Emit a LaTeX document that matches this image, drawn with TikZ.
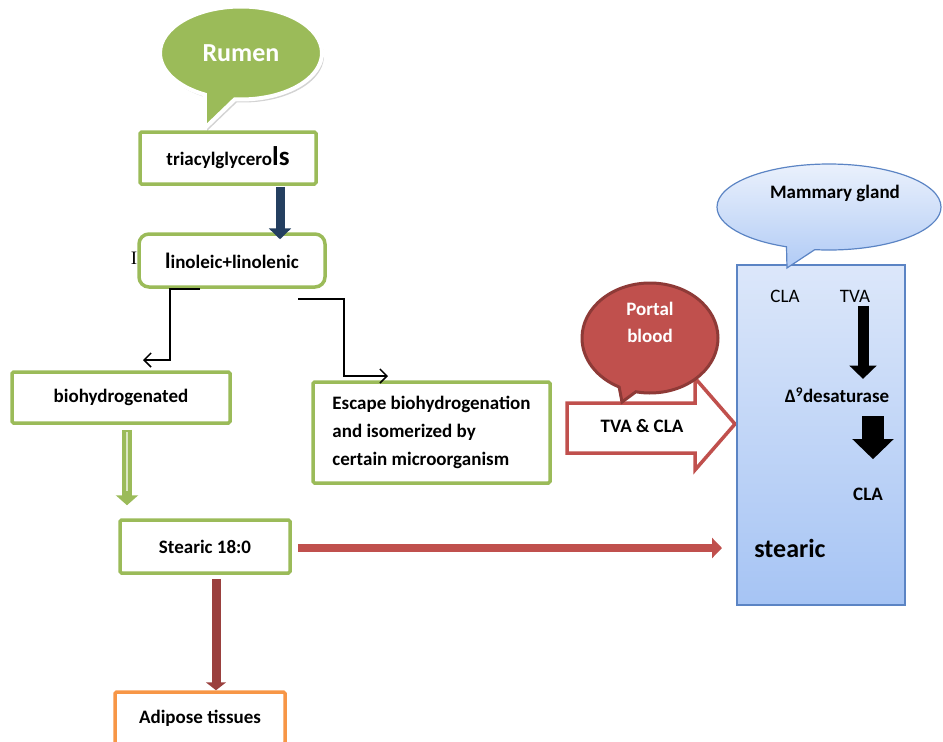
\documentclass[tikz,border=0pt]{standalone}
\usepackage{fontspec}
\setmainfont{Carlito}
\newfontfamily\serifI{Liberation Serif}
\usetikzlibrary{arrows.meta,shapes.callouts,shadows}
\definecolor{leafgreen}{HTML}{9BBB59}
\definecolor{brickred}{HTML}{C0504D}
\definecolor{darkbrick}{HTML}{8E3A37}
\definecolor{inknavy}{HTML}{243F60}
\definecolor{sunorange}{HTML}{F79646}
\definecolor{steelblue}{HTML}{5B84C4}
\definecolor{paleblue}{HTML}{DCE7FA}
\definecolor{skyblue}{HTML}{A6C4F4}
\newcommand\txt{\fontsize{19}{22}\selectfont}
\begin{document}
\begin{tikzpicture}[x=1pt,y=-1pt,
	box/.style={draw=leafgreen,line width=3.5pt,fill=white,rounded corners=1.5pt,font=\txt\bfseries},
	flow/.style={line width=1.5pt,-{Straight Barb[length=7pt,width=14pt]}},
	bubble/.style={ellipse callout,inner sep=0pt},
	blockarr/.style={line width=#1,-{Triangle[width=2.4*#1,length=1.2*#1]}}]
	\useasboundingbox (0,0) rectangle (943,742);
	% rumen side
	\node[bubble,fill=leafgreen,draw=white,line width=4pt,minimum width=162pt,minimum height=93pt,
		callout absolute pointer={(205,128)},callout pointer arc=22,drop shadow={opacity=.35,shadow xshift=2pt,shadow yshift=-3pt},
		text=white,font=\fontsize{26}{28}\selectfont\bfseries] (rumen) at (241,53) {Rumen};
	\node[box,minimum width=176pt,minimum height=52pt] (tri) at (228,158) {triacylglycero{\fontsize{27}{28}\selectfont ls}};
	\node[box,rounded corners=10pt,minimum width=186pt,minimum height=53pt] (lin) at (232,260.5) {{\fontsize{22}{22}\selectfont l}inoleic+linolenic};
	\node[font=\serifI\txt] (stray) at (134,258) {I};
	\node[box,minimum width=218pt,minimum height=51pt] (bio) at (121,397.5) {biohydrogenated};
	\node[box,minimum width=237pt,minimum height=101pt,align=left,font=\fontsize{19}{28}\selectfont\bfseries] (esc) at (431.5,432.5) {Escape biohydrogenation\\and isomerized by\\certain microorganism};
	\node[box,minimum width=170pt,minimum height=53pt] (stear) at (205,546.5) {Stearic 18:0};
	\node[box,draw=sunorange,minimum width=170pt,minimum height=52pt] (adi) at (200,718) {Adipose tissues};
	\coordinate (bioin) at (143,360);
	\coordinate (escout) at (298,299);
	\coordinate (escin) at (388,376);
	\coordinate (mamin) at (722,548);
	\draw[inknavy,blockarr=9pt] ([xshift=52pt,yshift=-1pt]tri.south) -- ([xshift=48pt,yshift=-7pt]lin.north);
	\draw[flow] ([xshift=-32pt]lin.south) -| ([xshift=27pt]bioin) -- (bioin);
	\draw[flow] (escout) -| ([xshift=-44pt]escin) -- (escin);
	\draw[leafgreen,line width=10pt,-{Triangle[width=22pt,length=10pt]}] ([xshift=6pt,yshift=-5pt]bio.south) -- ([xshift=-78pt,yshift=13pt]stear.north);
	\draw[leafgreen!35!white,line width=2.5pt] ([xshift=6pt,yshift=-7pt]bio.south) -- ([xshift=-78pt,yshift=27pt]stear.north);
	\draw[brickred,line width=8pt,-{Triangle[width=20pt,length=10pt]}] ([xshift=6pt,yshift=-1.5pt]stear.east) -- (mamin);
	\draw[brickred!80!black,line width=9pt,-{Triangle[width=20pt,length=8pt]}] ([xshift=11pt,yshift=-4pt]stear.south) -- ([xshift=16pt]adi.north);
	% portal blood
	\draw[brickred,line width=3.5pt,fill=white,line join=miter] (567,403) -- (695,403) -- (695,378) -- (735,424) -- (695,470) -- (695,453) -- (567,453) -- cycle;
	\node[font=\txt\bfseries] (tvacla) at (642,426) {TVA \& CLA};
	\node[bubble,fill=brickred,draw=darkbrick,line width=3pt,minimum width=136pt,minimum height=110pt,
		callout absolute pointer={(622,402)}] (portal) at (650,338) {};
	\node[text=white,align=center,font=\fontsize{19}{27}\selectfont\bfseries] (portaltxt) at (650,322) {Portal\\blood};
	% mammary gland
	\node[draw=steelblue,line width=1.2pt,top color=paleblue,bottom color=skyblue,minimum width=168pt,minimum height=340pt] (mam) at (821,435) {};
	\node[bubble,draw=steelblue,line width=1.2pt,top color=paleblue!60!white,bottom color=skyblue!80!paleblue,minimum width=224pt,minimum height=86pt,
		callout absolute pointer={(787,268)}] (gland) at (829,207) {};
	\node[font=\txt\bfseries] (glandtxt) at (835,193) {Mammary gland};
	\node[font=\txt] (clatop) at (785,296) {CLA};
	\node[font=\txt] (tvatop) at (855,296) {TVA};
	\node[font=\txt\bfseries] (desat) at (837,395) {Δ\textsuperscript{9}desaturase};
	\node[font=\txt\bfseries] (clabot) at (868,494) {CLA};
	\node[font=\fontsize{26}{28}\selectfont\bfseries] (stmam) at (790,548) {stearic};
	\draw[black,blockarr=11pt] ([xshift=8pt]tvatop.south) -- ([xshift=26pt,yshift=5pt]desat.north);
	\draw[black,line width=22pt,-{Triangle[width=40pt,length=20pt]}] ([xshift=36pt,yshift=-10pt]desat.south) -- ([xshift=5pt,yshift=25pt]clabot.north);
\end{tikzpicture}
\end{document}
